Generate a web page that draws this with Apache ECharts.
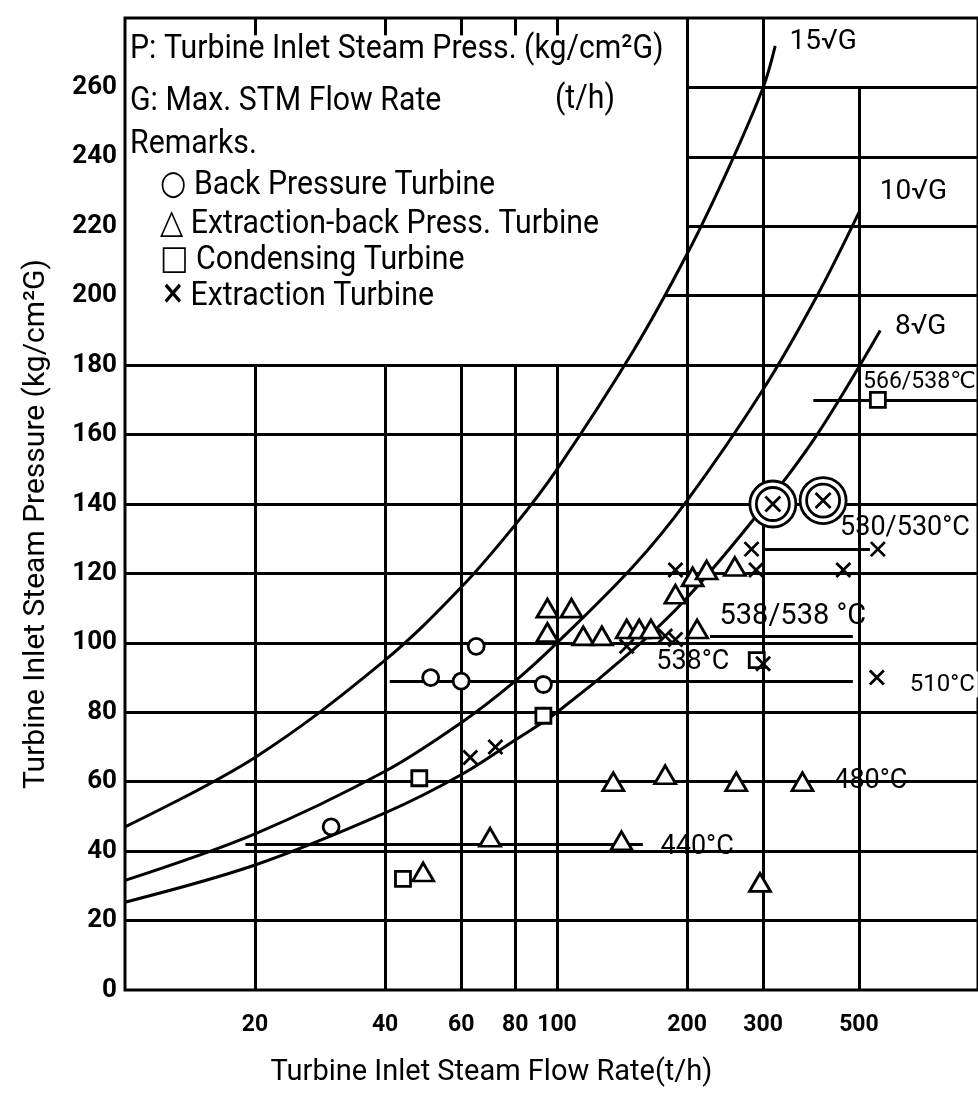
<!DOCTYPE html>
<html>
<head>
<meta charset="utf-8">
<script src="https://cdn.jsdelivr.net/npm/echarts@6/dist/echarts.min.js"></script>
<style>html,body{margin:0;padding:0;background:#fff}#c{width:978px;height:1094px}</style>
</head>
<body>
<div id="c"></div>
<script>
// ---------------- data ----------------
const xTickValues = [20, 40, 60, 80, 100, 200, 300, 500];
const xMin = 10;
const xMax = 943;   // right edge of the visible plot
const yMax = 280;

// curves P = k*sqrt(G)
const curve15G = [10, 20, 40, 60, 80, 100, 150, 200, 250, 300, 320];
const curve15P = [47, 67, 95, 116, 134, 150, 184, 212, 237, 260, 272];
const curve10G = [10, 20, 40, 60, 80, 100, 150, 200, 300, 400, 500];
const curve10P = [31.6, 45, 63, 77, 89, 100, 122, 141, 173, 200, 224];
const curve8G = [10, 20, 40, 60, 80, 100, 150, 200, 300, 400, 560];
const curve8P = [25.3, 36, 51, 62, 72, 80, 98, 113, 139, 160, 190];

// markers
const backPressureG = [30, 51, 60, 65, 93];
const backPressureP = [47, 90, 89, 99, 88];
const condensingG = [44, 48, 93, 290, 553];
const condensingP = [32, 61, 79, 95, 170];
const extractionBackG = [49, 70, 141, 135, 178, 260, 370, 295, 95, 108, 95, 115, 127, 145, 155, 165, 188, 206, 222, 211, 258];
const extractionBackP = [34, 44, 43, 60, 62, 60, 60, 31, 110, 110, 103, 102, 102, 104, 104, 104, 114, 119, 121, 104, 122];
const extractionG = [63, 72, 145, 178, 188, 188, 282, 289, 300, 460, 553, 550];
const extractionP = [67, 70, 99, 102, 101, 121, 127, 121, 94, 121, 127, 90];
const specialG = [316, 413];
const specialP = [140, 141];

// grid lines
const vGridG = [20, 40, 60, 80, 100, 200, 300, 500];
const vGridTop = [180, 180, 180, 180, 180, 280, 280, 260];
const hGridP = [20, 40, 60, 80, 100, 120, 140, 160, 180, 200, 220, 240, 260];
const hGridFrom = [10, 10, 10, 10, 10, 10, 10, 10, 10, 178, 200, 200, 200];
const topTickG = [20, 40, 60, 80, 100];

// temperature reference lines
const refLineP = [170, 127, 102, 89, 42];
const refLineFrom = [392, 300, 226, 41, 19];
const refLineTo = [943, 530, 484, 484, 158];

// annotations
const annoText = ['15√G', '10√G', '8√G', '566/538℃', '530/530°C', '538/538 °C', '538°C', '510°C', '480°C', '440°C'];
const annoG = [340, 550, 596, 511, 445, 234, 167, 645, 429, 170];
const annoP = [273, 230, 191, 175, 133, 107.5, 94.5, 88, 60, 41];

// legend block text
const legendLines = [
  'P: Turbine Inlet Steam Press. (kg/cm²G)',
  'G: Max. STM Flow Rate',
  '(t/h)',
  'Remarks.',
  '○ Back Pressure Turbine',
  '△ Extraction-back Press. Turbine',
  '□ Condensing Turbine',
  '{s|×} Extraction Turbine'
];
const xTitle = 'Turbine Inlet Steam Flow Rate(t/h)';
const yTitle = 'Turbine Inlet Steam Pressure (kg/cm²G)';

// ---------------- build ----------------
const FONT = 'Roboto, "DejaVu Sans", sans-serif';
const pairs = (gs, ps) => gs.map((g, i) => [g, ps[i]]);

const segs = [];
vGridG.forEach((g, i) => segs.push([{ coord: [g, 0] }, { coord: [g, vGridTop[i]] }]));
hGridP.forEach((p, i) => segs.push([{ coord: [hGridFrom[i], p] }, { coord: [xMax, p] }]));
topTickG.forEach(g => segs.push([{ coord: [g, yMax] }, { coord: [g, yMax - 5] }]));
refLineP.forEach((p, i) => segs.push([{ coord: [refLineFrom[i], p] }, { coord: [refLineTo[i], p] }]));

const annoExtra = {
  '15√G': { fontSize: 28 }, '10√G': { fontSize: 28 }, '8√G': { fontSize: 28 },
  '566/538℃': { fontSize: 23, padding: 0 },
  '538/538 °C': { fontSize: 29 },
  '510°C': { fontSize: 24 },
  '480°C': { padding: [30, 64, 30, 4] },
  '440°C': { padding: [44, 4, 34, 4] }
};

const curve = (gs, ps) => ({
  type: 'line', data: pairs(gs, ps), smooth: 0.35, symbol: 'none', z: 2,
  lineStyle: { color: '#000', width: 3 }, silent: true
});

const X_PATH = 'path://M0,0L10,10M10,0L0,10';
const scat = (data, symbol, size, z, fill) => ({
  type: 'scatter', data, symbol, symbolSize: size, z, silent: true,
  itemStyle: { color: fill, borderColor: '#000', borderWidth: 2.8, opacity: 1 },
  emphasis: { disabled: true }
});

const legendX = [130, 130, 555, 130, 160, 160, 160, 163];
const legendY = [49, 101, 99, 144, 185, 224, 260, 296];

const option = {
  animation: false,
  backgroundColor: '#fff',
  grid: { left: 125, top: 18, right: 0, height: 972, show: true, borderColor: '#000', borderWidth: 3, backgroundColor: 'transparent' },
  xAxis: {
    type: 'log', logBase: 10, min: xMin, max: xMax,
    axisLine: { show: false }, axisTick: { show: false }, splitLine: { show: false }, minorTick: { show: false },
    axisLabel: { customValues: xTickValues, color: '#000', fontSize: 23, fontWeight: 'bold', margin: 24, fontFamily: FONT },
    name: xTitle, nameLocation: 'middle', nameGap: 68,
    nameTextStyle: { color: '#000', fontSize: 29, fontFamily: FONT, padding: [0, 120, 0, 0] }
  },
  yAxis: {
    type: 'value', min: 0, max: yMax, interval: 20,
    axisLine: { show: false }, axisTick: { show: false }, splitLine: { show: false },
    axisLabel: { color: '#000', fontSize: 26, fontWeight: 'bold', margin: 8, fontFamily: FONT,
      formatter: v => (v >= yMax ? '' : String(v)) },
    name: yTitle, nameLocation: 'middle', nameRotate: 90, nameGap: 74,
    nameTextStyle: { color: '#000', fontSize: 30, fontFamily: FONT, padding: [0, 40, 0, 0] }
  },
  series: [
    {
      type: 'line', data: [], z: 1, silent: true,
      markLine: {
        silent: true, symbol: ['none', 'none'], label: { show: false }, animation: false,
        emphasis: { disabled: true },
        lineStyle: { color: '#000', width: 3, type: 'solid', opacity: 1 },
        data: segs
      }
    },
    curve(curve15G, curve15P),
    curve(curve10G, curve10P),
    curve(curve8G, curve8P),
    {
      type: 'scatter', z: 4, silent: true, symbolSize: 0,
      itemStyle: { opacity: 1 },
      emphasis: { disabled: true },
      data: annoG.map((g, i) => {
        const ex = annoExtra[annoText[i]] || {};
        return { value: [g, annoP[i]], label: Object.assign({}, ex) };
      }),
      label: {
        show: true, position: 'right', distance: 0, color: '#000', fontSize: 27, fontFamily: FONT,
        backgroundColor: '#fff', padding: [1, 3], opacity: 1,
        formatter: p => annoText[p.dataIndex]
      }
    },
    scat(pairs(backPressureG, backPressureP), 'circle', 16, 5, '#fff'),
    scat(pairs(condensingG, condensingP), 'rect', 15, 5, '#fff'),
    scat(pairs(extractionBackG, extractionBackP), 'triangle', [21, 18], 5, '#fff'),
    scat(pairs(extractionG, extractionP), X_PATH, 14, 6, 'none'),
    scat(pairs(specialG, specialP), 'circle', 46, 7, '#fff'),
    scat(pairs(specialG, specialP), 'circle', 33, 8, '#fff'),
    scat(pairs(specialG, specialP), X_PATH, 15, 9, 'none')
  ],
  graphic: {
    elements: legendLines.map((t, i) => ({
      type: 'text', z: 100,
      x: legendX[i], y: legendY[i], scaleX: 0.89,
      style: {
        text: t, fill: '#000', fontSize: 34, fontFamily: FONT, verticalAlign: 'middle', align: 'left',
        rich: { s: { fontSize: 42, fontFamily: FONT, fill: '#000' } }
      }
    }))
  }
};

const chart = echarts.init(document.getElementById('c'));
chart.setOption(option);
</script>
</body>
</html>
